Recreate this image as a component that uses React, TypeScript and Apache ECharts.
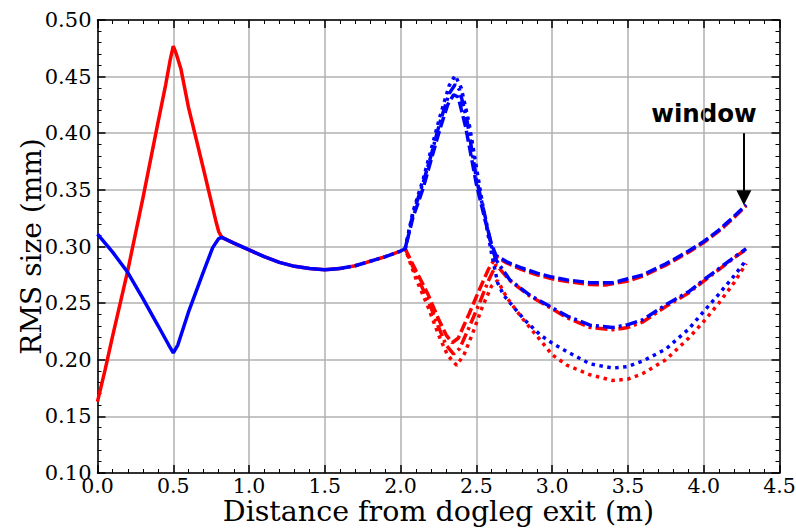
import React, { useEffect, useRef } from "react";
import * as echarts from "echarts";

// ---- data (x in m, y in mm) ----
const solidRedX = [0, 0.05, 0.1, 0.2, 0.3, 0.4, 0.45, 0.48, 0.5, 0.52, 0.55, 0.6, 0.7, 0.78, 0.8];
const solidRedY = [0.163, 0.191, 0.221, 0.279, 0.343, 0.41, 0.443, 0.465, 0.477, 0.47, 0.457, 0.423, 0.368, 0.323, 0.313];
const solidBlueX = [0, 0.1, 0.2, 0.3, 0.4, 0.47, 0.5, 0.53, 0.6, 0.7, 0.76, 0.8];
const solidBlueY = [0.311, 0.295, 0.277, 0.254, 0.23, 0.213, 0.206, 0.213, 0.242, 0.278, 0.299, 0.307];
const commonX = [0.82, 0.9, 1.0, 1.1, 1.2, 1.3, 1.4, 1.5, 1.6, 1.7, 1.8, 1.9, 2.0, 2.03];
const commonY = [0.308, 0.303, 0.297, 0.291, 0.286, 0.2825, 0.2805, 0.2795, 0.2805, 0.283, 0.287, 0.291, 0.296, 0.298];

const aBlueX = [2.08, 2.15, 2.2, 2.26, 2.31, 2.35, 2.38, 2.43, 2.5, 2.56, 2.6, 2.63, 2.7, 2.8, 2.9, 3.0, 3.1, 3.25, 3.4, 3.5, 3.6, 3.75, 3.9, 4.0, 4.1, 4.2, 4.28];
const aBlueY = [0.325, 0.352, 0.376, 0.404, 0.425, 0.434, 0.432, 0.405, 0.355, 0.322, 0.302, 0.292, 0.2865, 0.281, 0.2765, 0.273, 0.2705, 0.268, 0.268, 0.2715, 0.275, 0.2847, 0.296, 0.3044, 0.3145, 0.3265, 0.3368];
const aRedX = [2.1, 2.18, 2.25, 2.3, 2.34, 2.38, 2.45, 2.52, 2.58, 2.63, 2.7, 2.8, 2.9, 3.0, 3.1, 3.25, 3.35, 3.5, 3.6, 3.75, 3.9, 4.0, 4.1, 4.2, 4.28];
const aRedY = [0.279, 0.258, 0.236, 0.222, 0.215, 0.219, 0.24, 0.262, 0.28, 0.291, 0.2855, 0.2795, 0.275, 0.2715, 0.269, 0.2665, 0.266, 0.2695, 0.274, 0.2835, 0.295, 0.3035, 0.3135, 0.3255, 0.336];

const bBlueX = [2.08, 2.15, 2.2, 2.26, 2.32, 2.36, 2.39, 2.44, 2.5, 2.56, 2.6, 2.63, 2.72, 2.85, 2.96, 3.1, 3.25, 3.4, 3.5, 3.6, 3.75, 3.9, 4.0, 4.1, 4.2, 4.28];
const bBlueY = [0.328, 0.357, 0.38, 0.41, 0.435, 0.443, 0.438, 0.41, 0.36, 0.325, 0.3, 0.288, 0.2706, 0.2573, 0.249, 0.2385, 0.2305, 0.2285, 0.231, 0.2355, 0.2485, 0.26, 0.2705, 0.2805, 0.2905, 0.298];
const bRedX = [2.1, 2.18, 2.25, 2.3, 2.35, 2.39, 2.45, 2.52, 2.58, 2.63, 2.72, 2.85, 2.96, 3.1, 3.25, 3.4, 3.5, 3.6, 3.75, 3.9, 4.0, 4.1, 4.2, 4.28];
const bRedY = [0.276, 0.253, 0.229, 0.213, 0.205, 0.21, 0.228, 0.25, 0.27, 0.284, 0.27, 0.2565, 0.248, 0.237, 0.2285, 0.2265, 0.2285, 0.2335, 0.247, 0.259, 0.2695, 0.2795, 0.29, 0.2975];

const cBlueX = [2.08, 2.15, 2.2, 2.26, 2.32, 2.36, 2.4, 2.45, 2.5, 2.55, 2.6, 2.64, 2.68, 2.77, 2.82, 2.92, 3.0, 3.1, 3.25, 3.4, 3.5, 3.6, 3.75, 3.9, 4.0, 4.1, 4.2, 4.28];
const cBlueY = [0.33, 0.36, 0.385, 0.415, 0.442, 0.451, 0.44, 0.41, 0.37, 0.33, 0.294, 0.268, 0.257, 0.2426, 0.235, 0.222, 0.2147, 0.207, 0.1964, 0.1926, 0.194, 0.199, 0.2094, 0.227, 0.2426, 0.258, 0.274, 0.288];
const cRedX = [2.1, 2.18, 2.25, 2.31, 2.37, 2.42, 2.48, 2.54, 2.6, 2.64, 2.7, 2.8, 2.92, 3.0, 3.1, 3.25, 3.4, 3.5, 3.6, 3.75, 3.9, 4.0, 4.1, 4.2, 4.28];
const cRedY = [0.272, 0.247, 0.222, 0.204, 0.195, 0.205, 0.225, 0.247, 0.265, 0.27, 0.255, 0.237, 0.2176, 0.2044, 0.195, 0.1867, 0.1817, 0.1829, 0.188, 0.2, 0.219, 0.2338, 0.25, 0.268, 0.285];

const xTicks = [0, 0.5, 1.0, 1.5, 2.0, 2.5, 3.0, 3.5, 4.0, 4.5];
const yTicks = [0.1, 0.15, 0.2, 0.25, 0.3, 0.35, 0.4, 0.45, 0.5];
const windowX = 4.265;
const windowArrowFrom = 0.4;
const windowArrowTo = 0.343;

const RED = "#ff0000";
const BLUE = "#0000ff";
const SERIF = "DejaVu Serif";

const zip = (xs: number[], ys: number[]) => xs.map((x, i) => [x, ys[i]]);
const commonFrom = (x0: number) => zip(commonX, commonY).filter((p) => p[0] >= x0 - 1e-9);

export default function App() {
  const ref = useRef<HTMLDivElement>(null);
  useEffect(() => {
    if (!ref.current) return;
    const chart = echarts.init(ref.current, null, { renderer: "svg" });

    const line = (name: string, data: number[][], color: string, type: any, offset = 0, extra: any = {}) => ({
      name,
      type: "line",
      data,
      showSymbol: false,
      symbol: "none",
      xAxisIndex: 0,
      yAxisIndex: 0,
      lineStyle: { color, width: 3.5, type, dashOffset: offset, cap: "butt" },
      emphasis: { disabled: true },
      silent: true,
      ...extra,
    });

    const dashA = [11, 4];
    const dashB = [12, 4, 3, 4];
    const dotC = [3.5, 4.5];

    const solidRed = [...zip(solidRedX, solidRedY), ...commonFrom(0).filter((p) => p[0] <= 1.6)];
    const solidBlue = [...zip(solidBlueX, solidBlueY), ...commonFrom(0).filter((p) => p[0] <= 1.6)];

    const series: any[] = [
      line("red solid", solidRed, RED, "solid"),
      line("blue solid", solidBlue, BLUE, "solid"),
      line("red A", [...commonFrom(1.6), ...zip(aRedX, aRedY)], RED, dashA, 7),
      line("red B", [...commonFrom(2.03), ...zip(bRedX, bRedY)], RED, dashB, 9),
      line("red C", [...commonFrom(2.03), ...zip(cRedX, cRedY)], RED, dotC, 3),
      line("blue A", [...commonFrom(1.6), ...zip(aBlueX, aBlueY)], BLUE, dashA, 0, {
        markLine: {
          silent: true,
          symbol: ["none", "triangle"],
          symbolSize: 15,
          symbolRotate: 180,
          label: { show: false },
          lineStyle: { color: "#000", width: 2, type: "solid" },
          itemStyle: { color: "#000" },
          emphasis: { disabled: true },
          data: [[{ coord: [windowX, windowArrowFrom] }, { coord: [windowX, windowArrowTo] }]],
        },
      }),
      line("blue B", [...commonFrom(2.03), ...zip(bBlueX, bBlueY)], BLUE, dashB, 0),
      line("blue C", [...commonFrom(2.03), ...zip(cBlueX, cBlueY)], BLUE, dotC, 0),
    ];

    const xBase = {
      type: "value",
      min: xTicks[0],
      max: xTicks[xTicks.length - 1],
      interval: 0.5,
      axisLine: { show: true, onZero: false, lineStyle: { color: "#000", width: 1.5 } },
      axisTick: { show: true, inside: true, length: 8, lineStyle: { color: "#000", width: 1.5 } },
      minorTick: { show: true, splitNumber: 5, length: 4, lineStyle: { color: "#000", width: 1 } },
      minorSplitLine: { show: false },
    };
    const yBase = {
      type: "value",
      min: yTicks[0],
      max: yTicks[yTicks.length - 1],
      interval: 0.05,
      axisLine: { show: true, onZero: false, lineStyle: { color: "#000", width: 1.5 } },
      axisTick: { show: true, inside: true, length: 8, lineStyle: { color: "#000", width: 1.5 } },
      minorTick: { show: true, splitNumber: 5, length: 4, lineStyle: { color: "#000", width: 1 } },
      minorSplitLine: { show: false },
    };

    chart.setOption({
      animation: false,
      backgroundColor: "#fff",
      grid: { left: 97.5, right: 16.5, top: 20, bottom: 55, containLabel: false, outerBoundsMode: "none" },
      xAxis: [
        {
          ...xBase,
          position: "bottom",
          name: "Distance from dogleg exit (m)",
          nameLocation: "middle",
          nameGap: 25,
          nameMoveOverlap: false,
          nameTextStyle: { fontFamily: SERIF, fontSize: 28.5, color: "#000", lineHeight: 26 },
          axisLabel: { show: true, fontFamily: SERIF, fontSize: 20.5, lineHeight: 20, color: "#000", margin: 3, formatter: (v: number) => v.toFixed(1) },
          splitLine: { show: true, lineStyle: { color: "#b0b0b0", width: 1.5 } },
        },
        { ...xBase, position: "top", axisLabel: { show: false }, splitLine: { show: false } },
      ],
      yAxis: [
        {
          ...yBase,
          position: "left",
          name: "RMS size (mm)",
          nameLocation: "middle",
          nameGap: 52,
          nameMoveOverlap: false,
          nameTextStyle: { fontFamily: SERIF, fontSize: 28, color: "#000" },
          axisLabel: { show: true, fontFamily: SERIF, fontSize: 21, color: "#000", margin: 6, formatter: (v: number) => v.toFixed(2) },
          splitLine: { show: true, lineStyle: { color: "#b0b0b0", width: 1.5 } },
        },
        { ...yBase, position: "right", axisLabel: { show: false }, splitLine: { show: false } },
      ],
      graphic: [
        {
          type: "text",
          x: 704,
          y: 113,
          silent: true,
          style: {
            text: "window",
            fontFamily: "DejaVu Sans",
            fontWeight: "bold",
            fontSize: 24.5,
            fill: "#000",
            textAlign: "center",
            textVerticalAlign: "middle",
          },
        },
      ],
      series,
    });
    return () => chart.dispose();
  }, []);
  return <div ref={ref} style={{ width: 796, height: 528, position: "absolute", left: 0, top: 0 }} />;
}
